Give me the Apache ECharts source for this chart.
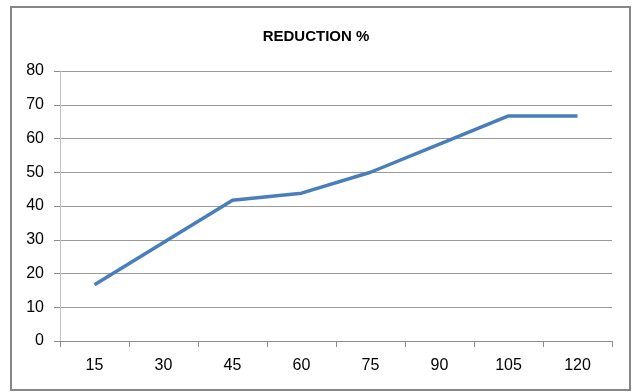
<!DOCTYPE html>
<html>
<head>
<meta charset="utf-8">
<script src="https://cdn.jsdelivr.net/npm/echarts@6/dist/echarts.min.js"></script>
<style>
html,body{margin:0;padding:0;background:#fff;}
#chart{width:632px;height:392px;}
</style>
</head>
<body>
<div id="chart"></div>
<script>
const categories = ['15','30','45','60','75','90','105','120'];
const reduction = [16.7, 29.2, 41.7, 43.8, 50.0, 58.3, 66.7, 66.7];
const chartTitle = 'REDUCTION %';

const chart = echarts.init(document.getElementById('chart'), null, {renderer:'canvas'});
const font = '"Liberation Sans", sans-serif';
chart.setOption({
  animation: false,
  backgroundColor: '#ffffff',
  graphic: [{
    type: 'rect',
    shape: {x: 11, y: 7, width: 619, height: 383},
    style: {fill: 'none', stroke: '#868686', lineWidth: 2},
    silent: true
  }],
  title: {
    text: chartTitle,
    left: 'center',
    top: 24,
    textStyle: {fontFamily: font, fontSize: 15, fontWeight: 'bold', color: '#000'}
  },
  grid: {left: 60, right: 20, top: 71, bottom: 51, containLabel: false},
  xAxis: {
    type: 'category',
    data: categories,
    boundaryGap: true,
    axisLine: {show: true, lineStyle: {color: '#8c8c8c', width: 1}},
    axisTick: {show: true, length: 6, alignWithLabel: false, lineStyle: {color: '#8c8c8c'}},
    axisLabel: {fontFamily: font, fontSize: 16, color: '#000', margin: 17},
    splitLine: {show: false}
  },
  yAxis: {
    type: 'value',
    min: 0, max: 80, interval: 10,
    axisLine: {show: true, lineStyle: {color: '#c0c0c0', width: 1}},
    axisTick: {show: true, length: 6, lineStyle: {color: '#8c8c8c'}},
    axisLabel: {fontFamily: font, fontSize: 16, color: '#000', margin: 16},
    splitLine: {show: true, lineStyle: {color: '#9a9a9a', width: 1}}
  },
  series: [{
    type: 'line',
    data: reduction,
    symbol: 'none',
    lineStyle: {color: '#4a7ebb', width: 3.5},
    itemStyle: {color: '#4a7ebb'}
  }]
});
</script>
</body>
</html>
